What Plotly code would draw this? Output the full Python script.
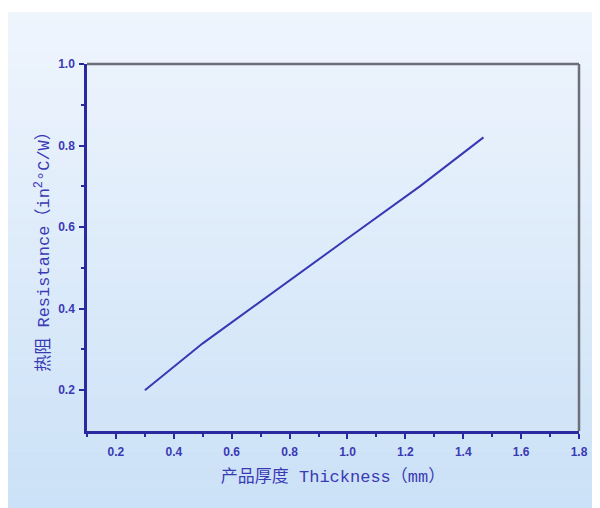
import plotly.graph_objects as go

# Data
thickness_mm = [0.3, 0.5, 1.0, 1.25, 1.47]
resistance = [0.20, 0.315, 0.572, 0.700, 0.82]

x_ticks = [0.2, 0.4, 0.6, 0.8, 1.0, 1.2, 1.4, 1.6, 1.8]
x_tick_labels = ["0.2", "0.4", "0.6", "0.8", "1.0", "1.2", "1.4", "1.6", "1.8"]
y_ticks = [0.2, 0.4, 0.6, 0.8, 1.0]
y_tick_labels = ["0.2", "0.4", "0.6", "0.8", "1.0"]

x_title = "产品厚度 Thickness（mm）"
y_title = "热阻 Resistance（in<sup>2</sup>°C/W）"

BLUE = "#2a2aa0"
TEXT = "#3a3ab4"
GRAY = "#6c6e78"

fig = go.Figure()
fig.add_trace(go.Scatter(
    x=thickness_mm, y=resistance, mode="lines",
    line=dict(color="#3838b4", width=2), showlegend=False, hoverinfo="skip"))

# Figure is drawn inside the page's 8px body margin
W, H = 592, 500
L, R, T, B = 79, 16, 56, 77
pw, ph = W - L - R, H - T - B
def px_x(p):
    return (p - L) / pw
def px_y(p):
    return 1 - (p - T) / ph

# Background gradient panel approximated with horizontal stripes
top_rgb = (239, 245, 253)
bot_rgb = (203, 225, 247)
n = 60
y0p, y1p = 4, 500
shapes = []
for i in range(n):
    a = y0p + (y1p - y0p) * i / n
    b = y0p + (y1p - y0p) * (i + 1) / n + 0.6
    t = (i + 0.5) / n
    c = tuple(round(top_rgb[k] + (bot_rgb[k] - top_rgb[k]) * t) for k in range(3))
    shapes.append(dict(type="rect", xref="paper", yref="paper", layer="below",
                       x0=px_x(-1), x1=px_x(W + 1), y0=px_y(b), y1=px_y(a),
                       line=dict(width=0), fillcolor="rgb(%d,%d,%d)" % c))
# gray top and right frame
shapes.append(dict(type="line", xref="paper", yref="paper", x0=0, x1=1, y0=1, y1=1,
                   line=dict(color=GRAY, width=2.5)))
shapes.append(dict(type="line", xref="paper", yref="paper", x0=1, x1=1, y0=0, y1=1,
                   line=dict(color=GRAY, width=2.5)))

tick_font = dict(family="Liberation Sans, Arial, sans-serif", size=12, color=TEXT, weight="bold")
title_font = dict(family="Liberation Mono, Noto Sans CJK SC, monospace", size=17, color=TEXT)

fig.update_layout(
    width=W, height=H,
    margin=dict(l=L, r=R, t=T, b=B),
    paper_bgcolor="white",
    plot_bgcolor="rgba(0,0,0,0)",
    shapes=shapes,
    xaxis=dict(range=[0.1, 1.8], tickvals=x_ticks, ticktext=x_tick_labels,
               showgrid=False, zeroline=False, showline=True, linecolor=BLUE, linewidth=2.5,
               ticks="outside", ticklen=5, tickwidth=2, tickcolor=BLUE,
               ticklabelstandoff=3,
               minor=dict(tickvals=[0.1, 0.3, 0.5, 0.7, 0.9, 1.1, 1.3, 1.5, 1.7], ticks="outside",
                          ticklen=3, tickwidth=1.5, tickcolor=BLUE, showgrid=False),
               tickfont=tick_font,
               title=dict(text=x_title, font=title_font, standoff=12)),
    yaxis=dict(range=[0.1, 1.0], tickvals=y_ticks, ticktext=y_tick_labels,
               showgrid=False, zeroline=False, showline=True, linecolor=BLUE, linewidth=2.5,
               ticks="outside", ticklen=5, tickwidth=2, tickcolor=BLUE,
               ticklabelstandoff=2,
               minor=dict(tickvals=[0.3, 0.5, 0.7, 0.9], ticks="outside",
                          ticklen=3, tickwidth=1.5, tickcolor=BLUE, showgrid=False),
               tickfont=tick_font,
               title=dict(text=y_title, font=title_font, standoff=5)),
)

fig.write_html("out.html")
